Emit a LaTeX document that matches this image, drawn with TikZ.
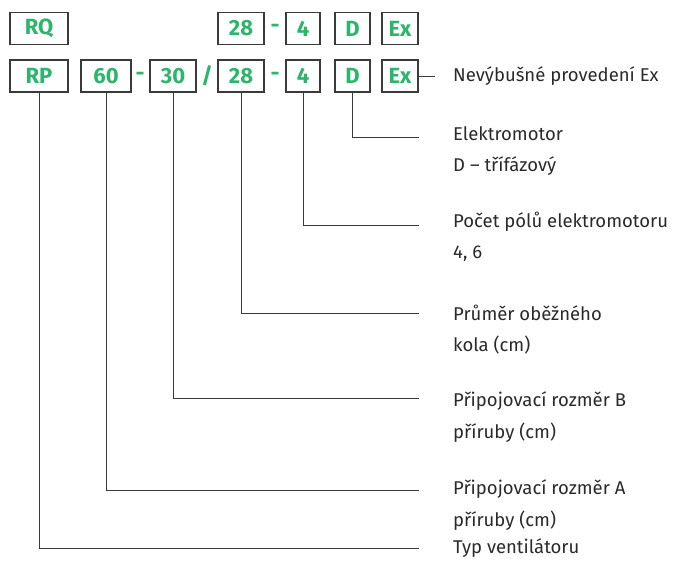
\documentclass[tikz,border=0pt]{standalone}
\usepackage{fontspec}
\setmainfont{Fira Sans}
\definecolor{grn}{HTML}{2DB56E}
\definecolor{ln}{HTML}{3A3A3A}
\definecolor{txt}{HTML}{2A2A2A}
\begin{document}
\begin{tikzpicture}[x=1pt,y=-1pt,
  code/.style={draw=ln,line width=1.1pt,fill=white,minimum height=32pt,inner sep=0pt,
    font=\fontsize{22}{22}\selectfont\bfseries,text=grn},
  sep/.style={font=\fontsize{22}{22}\selectfont\bfseries,text=grn,inner sep=0pt},
  conn/.style={draw=ln,line width=1pt},
  lbl/.style={anchor=west,inner sep=0pt,font=\fontsize{18.5}{18.5}\selectfont,text=txt}]
\useasboundingbox (0,0) rectangle (683,587);
% top row
\node[code,minimum width=58pt] (rq) at (39,28.5) {RQ};
\node[code,minimum width=46pt] (t28) at (241,28.5) {28};
\node[sep] (tdash) at (275,28.5) {-};
\node[code,minimum width=34pt] (t4) at (303,28.5) {4};
\node[code,minimum width=35pt] (td) at (352.5,28.5) {D};
\node[code,minimum width=36pt] (tex) at (400,28.5) {Ex};
% bottom row
\node[code,minimum width=58pt] (rp) at (39,76) {RP};
\node[code,minimum width=50pt] (b60) at (106,76) {60};
\node[sep] (bdash1) at (140,76) {-};
\node[code,minimum width=46pt] (b30) at (173,76) {30};
\node[sep] (slash) at (207,76) {/};
\node[code,minimum width=46pt] (b28) at (241,76) {28};
\node[sep] (bdash2) at (275,76) {-};
\node[code,minimum width=34pt] (b4) at (303,76) {4};
\node[code,minimum width=35pt] (bd) at (352.5,76) {D};
\node[code,minimum width=36pt] (bex) at (400,76) {Ex};
% end coordinates
\coordinate (eex) at (435,76);
\coordinate (ed) at (419,137);
\coordinate (e4) at (419,225);
\coordinate (e28) at (419,313);
\coordinate (e30) at (419,398);
\coordinate (e60) at (419,490);
\coordinate (erp) at (419,548);
% connectors
\draw[conn] (bex.east) -- (eex);
\draw[conn] (bd.south) |- (ed);
\draw[conn] (b4.south) |- (e4);
\draw[conn] (b28.south) |- (e28);
\draw[conn] (b30.south) |- (e30);
\draw[conn] (b60.south) |- (e60);
\draw[conn] (rp.south) |- (erp);
% labels
\node[lbl] (l1) at (453,76) {Nevýbušné provedení Ex};
\node[lbl] (l2a) at (453,134) {Elektromotor};
\node[lbl] (l2b) at (453,166) {D – třífázový};
\node[lbl] (l3a) at (453,222) {Počet pólů elektromotoru};
\node[lbl] (l3b) at (453,254) {4, 6};
\node[lbl] (l4a) at (453,313) {Průměr oběžného};
\node[lbl] (l4b) at (453,345) {kola (cm)};
\node[lbl] (l5a) at (453,401) {Připojovací rozměr B};
\node[lbl] (l5b) at (453,433) {příruby (cm)};
\node[lbl] (l6a) at (453,489) {Připojovací rozměr A};
\node[lbl] (l6b) at (453,521) {příruby (cm)};
\node[lbl] (l7) at (453,548) {Typ ventilátoru};
\end{tikzpicture}
\end{document}
